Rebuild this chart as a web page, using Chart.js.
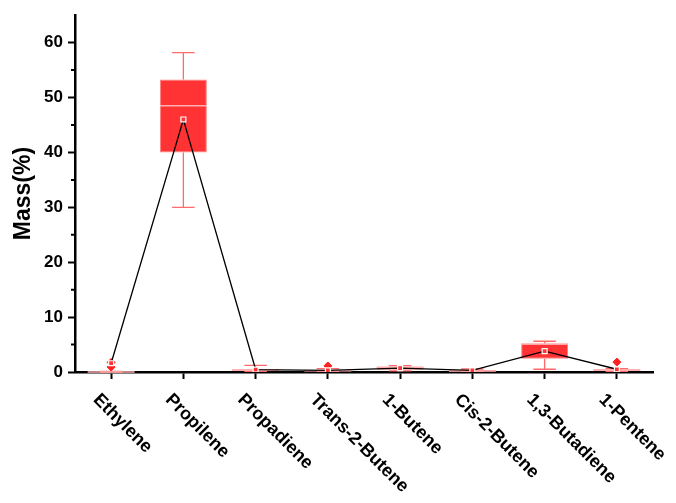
<!DOCTYPE html>
<html>
<head>
<meta charset="utf-8">
<script src="https://cdn.jsdelivr.net/npm/chart.js@4.4.1/dist/chart.umd.min.js"></script>
<style>
  body { margin: 0; background: #fff; }
  canvas { display: block; }
</style>
</head>
<body>
<canvas id="myChart" width="676" height="503"></canvas>
<script>
// gases on the x axis
var categories = ['Ethylene', 'Propilene', 'Propadiene', 'Trans-2-Butene', '1-Butene', 'Cis-2-Butene', '1,3-Butadiene', '1-Pentene'];

// box plot values, Mass(%)
var whiskerLow  = [0.0, 30.0, 0.1, 0.1, 0.2, 0.1, 0.5, 0.1];
var q1          = [0.0, 40.0, 0.2, 0.15, 0.4, 0.1, 2.4, 0.2];
var median      = [0.02, 48.5, 0.3, 0.25, 0.8, 0.2, 5.1, 0.3];
var q3          = [0.05, 53.3, 0.5, 0.4, 1.0, 0.35, 5.15, 0.5];
var whiskerHigh = [0.1, 58.2, 1.2, 0.6, 1.15, 0.55, 5.6, 0.6];
var mean        = [1.6, 46.0, 0.45, 0.3, 0.7, 0.3, 3.8, 0.5];

// outliers
var outlierCat = ['Ethylene', 'Ethylene', 'Trans-2-Butene', '1-Pentene'];
var outlierVal = [1.75, 0.9, 1.1, 1.8];

var yTicks = [0, 10, 20, 30, 40, 50, 60];
var yMinor = [5, 15, 25, 35, 45, 55];

var boxes = categories.map(function (c, i) { return [q1[i], q3[i]]; });
var outliers = outlierCat.map(function (c, i) { return { x: c, y: outlierVal[i] }; });

// whiskers + median, drawn right after the boxes (under the mean line)
var boxExtras = {
    id: 'boxExtras',
    afterDatasetDraw: function (chart, args) {
        if (args.index !== 0) return;
        var ctx = chart.ctx;
        var y = chart.scales.y;
        var meta = chart.getDatasetMeta(0);
        ctx.save();
        meta.data.forEach(function (bar, i) {
            var cx = bar.x;
            var half = bar.width / 2;
            var cap = bar.width * 0.24;
            ctx.strokeStyle = '#ff6b6b';
            ctx.lineWidth = 1.3;
            ctx.beginPath();
            ctx.moveTo(cx, y.getPixelForValue(whiskerHigh[i]));
            ctx.lineTo(cx, y.getPixelForValue(q3[i]));
            ctx.moveTo(cx, y.getPixelForValue(q1[i]));
            ctx.lineTo(cx, y.getPixelForValue(whiskerLow[i]));
            ctx.moveTo(cx - cap, y.getPixelForValue(whiskerHigh[i]));
            ctx.lineTo(cx + cap, y.getPixelForValue(whiskerHigh[i]));
            ctx.moveTo(cx - cap, y.getPixelForValue(whiskerLow[i]));
            ctx.lineTo(cx + cap, y.getPixelForValue(whiskerLow[i]));
            ctx.stroke();
            ctx.strokeStyle = '#ffb0b0';
            ctx.lineWidth = 1.5;
            ctx.beginPath();
            ctx.moveTo(cx - half, y.getPixelForValue(median[i]));
            ctx.lineTo(cx + half, y.getPixelForValue(median[i]));
            ctx.stroke();
        });
        ctx.restore();
    }
};

// minor y ticks and the slanted category labels
var axisExtras = {
    id: 'axisExtras',
    afterDraw: function (chart) {
        var ctx = chart.ctx;
        var x = chart.scales.x;
        var y = chart.scales.y;
        ctx.save();
        ctx.strokeStyle = '#000';
        ctx.lineWidth = 2;
        ctx.beginPath();
        yMinor.forEach(function (v) {
            var py = y.getPixelForValue(v);
            ctx.moveTo(y.right - 4, py);
            ctx.lineTo(y.right, py);
        });
        ctx.stroke();

        ctx.fillStyle = '#000';
        ctx.font = 'bold 18px "Liberation Sans", Arial, sans-serif';
        ctx.textAlign = 'left';
        ctx.textBaseline = 'middle';
        categories.forEach(function (c, i) {
            var px = x.getPixelForValue(i);
            ctx.save();
            ctx.translate(px - 15, x.top + 25);
            ctx.rotate(Math.PI / 4);
            ctx.fillText(c, 0, 0);
            ctx.restore();
        });
        ctx.restore();
    }
};

var ctx = document.getElementById('myChart').getContext('2d');
var myChart = new Chart(ctx, {
    type: 'bar',
    data: {
        labels: categories,
        datasets: [{
            label: 'box',
            data: boxes,
            backgroundColor: '#ff3333',
            borderColor: '#ff8080',
            borderWidth: 1,
            borderSkipped: false,
            barPercentage: 0.65,
            categoryPercentage: 1,
            order: 3
        }, {
            type: 'line',
            label: 'outliers',
            data: outliers,
            showLine: false,
            pointStyle: 'rectRot',
            pointRadius: 4,
            pointBackgroundColor: '#ff2020',
            pointBorderColor: '#ff2020',
            pointBorderWidth: 1,
            order: 2
        }, {
            type: 'line',
            label: 'mean',
            data: mean,
            borderColor: '#000',
            borderWidth: 1.3,
            pointStyle: 'rect',
            pointRadius: 3.5,
            pointBackgroundColor: '#ff3333',
            pointBorderColor: '#fff',
            pointBorderWidth: 1.2,
            tension: 0,
            order: 1
        }]
    },
    options: {
        responsive: false,
        animation: false,
        layout: { padding: { top: 15, right: 23, left: 0, bottom: 0 } },
        plugins: {
            legend: { display: false },
            tooltip: { enabled: false }
        },
        scales: {
            x: {
                offset: true,
                grid: {
                    offset: false,
                    drawOnChartArea: false,
                    drawTicks: true,
                    tickLength: 7,
                    tickWidth: 2,
                    tickColor: '#000'
                },
                border: { display: true, color: '#000', width: 2.5 },
                ticks: { display: false },
                afterFit: function (s) { s.height = 131; }
            },
            y: {
                min: 0,
                max: 65,
                afterBuildTicks: function (s) {
                    s.ticks = yTicks.map(function (v) { return { value: v }; });
                },
                grid: {
                    drawOnChartArea: false,
                    tickLength: 7,
                    tickWidth: 2,
                    tickColor: '#000'
                },
                border: { display: true, color: '#000', width: 2.5 },
                ticks: {
                    color: '#000',
                    padding: 5,
                    font: { family: '"Liberation Sans", Arial, sans-serif', size: 17, weight: 'bold' }
                },
                title: {
                    display: true,
                    text: 'Mass(%)',
                    color: '#000',
                    padding: { top: 10, bottom: 0 },
                    font: { family: '"Liberation Sans", Arial, sans-serif', size: 23, weight: 'bold' }
                },
                afterFit: function (s) { s.width = 75; }
            }
        }
    },
    plugins: [boxExtras, axisExtras]
});
</script>
</body>
</html>
